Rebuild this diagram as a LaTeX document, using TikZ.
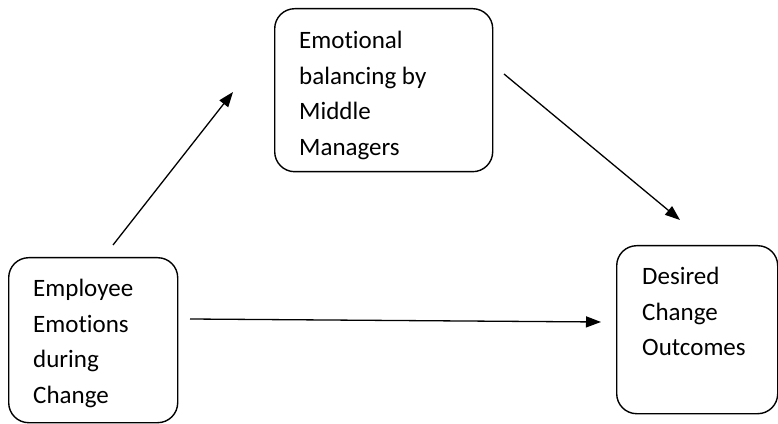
\documentclass[tikz,border=0pt]{standalone}
\usepackage{fontspec}
\setmainfont[Ligatures=NoCommon]{Carlito}
\usetikzlibrary{arrows.meta}
\begin{document}
\begin{tikzpicture}[x=1pt,y=1pt,
  box/.style={draw=black, line width=1.4pt, rounded corners=20pt, minimum width=#1, inner sep=0pt, anchor=north west},
  txt/.style={anchor=north west, inner sep=0pt, align=left, font=\fontsize{25}{35.7}\selectfont},
  conn/.style={line width=1.3pt, -{Triangle[length=15pt,width=11pt]}}]
\useasboundingbox (0,0) rectangle (778,423);
% boxes
\node[box=218pt, minimum height=163pt] (mid) at (274,415) {};
\node[box=169pt, minimum height=165pt] (emp) at (8,166) {};
\node[box=161pt, minimum height=168pt] (out) at (616,178) {};
% texts
\node[txt] (midtxt) at ([shift={(25,-23)}]mid.north west) {Emotional\\balancing by\\Middle\\Managers};
\node[txt] (emptxt) at ([shift={(25,-22)}]emp.north west) {Employee\\Emotions\\during\\Change};
\node[txt] (outtxt) at ([shift={(26,-22)}]out.north west) {Desired\\Change\\Outcomes};
% connector ends
\coordinate (a1) at (113,178);
\coordinate (a2) at (233,331);
\coordinate (b1) at (504,349);
\coordinate (b2) at (680,203);
\coordinate (c1) at (190,104);
\coordinate (c2) at (601,101);
\draw[conn] (a1) -- (a2);
\draw[conn] (b1) -- (b2);
\draw[conn] (c1) -- (c2);
\end{tikzpicture}
\end{document}
